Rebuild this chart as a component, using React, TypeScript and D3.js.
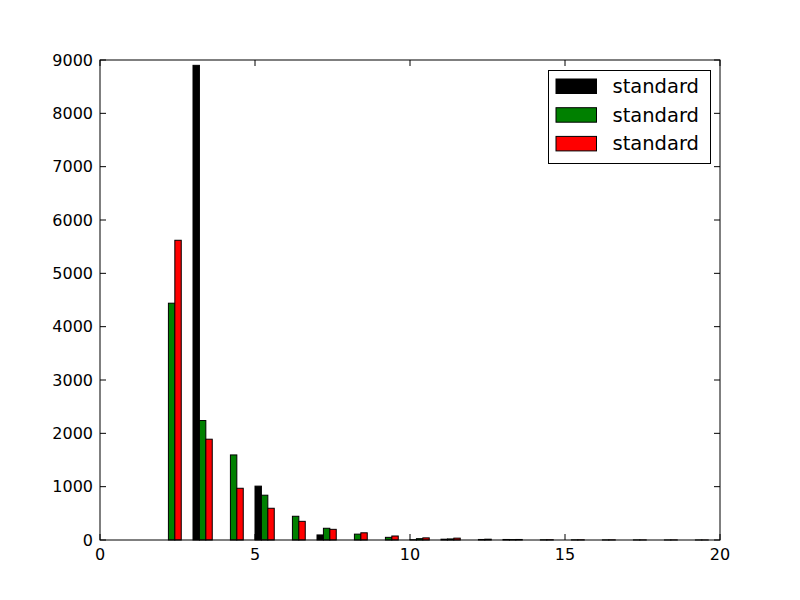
import React from "react";
import * as d3 from "d3";

const bins = [0,1,2,3,4,5,6,7,8,9,10,11,12,13,14,15,16,17,18,19];
const seriesNames = ["standard", "standard", "standard"];
const seriesColors = ["#000000", "#008000", "#ff0000"];
const blackVals = [0,0,0,8900,0,1010,0,95,0,0,5,15,0,10,0,0,0,0,0,0];
const greenVals = [0,0,4440,2240,1595,840,445,220,110,50,25,20,10,8,4,3,2,2,1,1];
const redVals   = [0,0,5620,1890,970,595,350,200,135,75,40,35,15,10,5,4,3,2,2,1];
const xTicks = [0,5,10,15,20];
const yTicks = [0,1000,2000,3000,4000,5000,6000,7000,8000,9000];

const W = 800, H = 600;
const L = 100, R = 720, T = 60, B = 540;
const BAR_W = 0.207;

export default function App() {
  const x = d3.scaleLinear().domain([0, 20]).range([L, R]);
  const y = d3.scaleLinear().domain([0, 9000]).range([B, T]);
  const all = [blackVals, greenVals, redVals];
  const font = "'DejaVu Sans', sans-serif";
  return (
    <svg width={W} height={H} style={{ position: "absolute", left: 0, top: 0, background: "#fff" }}>
      <rect x={0} y={0} width={W} height={H} fill="#fff" />
      {all.map((vals, si) =>
        bins.map((b, i) => {
          const v = vals[i];
          if (v <= 0) return null;
          const x0 = x(b + si * BAR_W);
          const x1 = x(b + (si + 1) * BAR_W);
          return (
            <rect key={si + "-" + i} x={x0} y={y(v)} width={x1 - x0} height={B - y(v)}
              fill={seriesColors[si]} stroke="#000" strokeWidth={1} />
          );
        })
      )}
      {/* axes frame */}
      <rect x={L} y={T} width={R - L} height={B - T} fill="none" stroke="#000" strokeWidth={1} />
      {yTicks.map((t) => (
        <g key={"y" + t}>
          <line x1={L} x2={L + 6} y1={y(t)} y2={y(t)} stroke="#000" />
          <line x1={R} x2={R - 6} y1={y(t)} y2={y(t)} stroke="#000" />
          <text x={L - 7} y={y(t)} dy="0.36em" textAnchor="end" fontFamily={font} fontSize={16}>{t}</text>
        </g>
      ))}
      {xTicks.map((t) => (
        <g key={"x" + t}>
          <line x1={x(t)} x2={x(t)} y1={B} y2={B - 6} stroke="#000" />
          <line x1={x(t)} x2={x(t)} y1={T} y2={T + 6} stroke="#000" />
          <text x={x(t)} y={B + 8} dy="0.76em" textAnchor="middle" fontFamily={font} fontSize={16}>{t}</text>
        </g>
      ))}
      {/* legend */}
      <rect x={548.5} y={70.5} width={162} height={93} fill="#fff" stroke="#000" strokeWidth={1} />
      {seriesNames.map((n, i) => (
        <g key={"lg" + i}>
          <rect x={556} y={79 + i * 28.7} width={40.5} height={14.5} fill={seriesColors[i]} stroke="#000" strokeWidth={1} />
          <text x={612.5} y={93 + i * 28.7} fontFamily={font} fontSize={19.5}>{n}</text>
        </g>
      ))}
    </svg>
  );
}
